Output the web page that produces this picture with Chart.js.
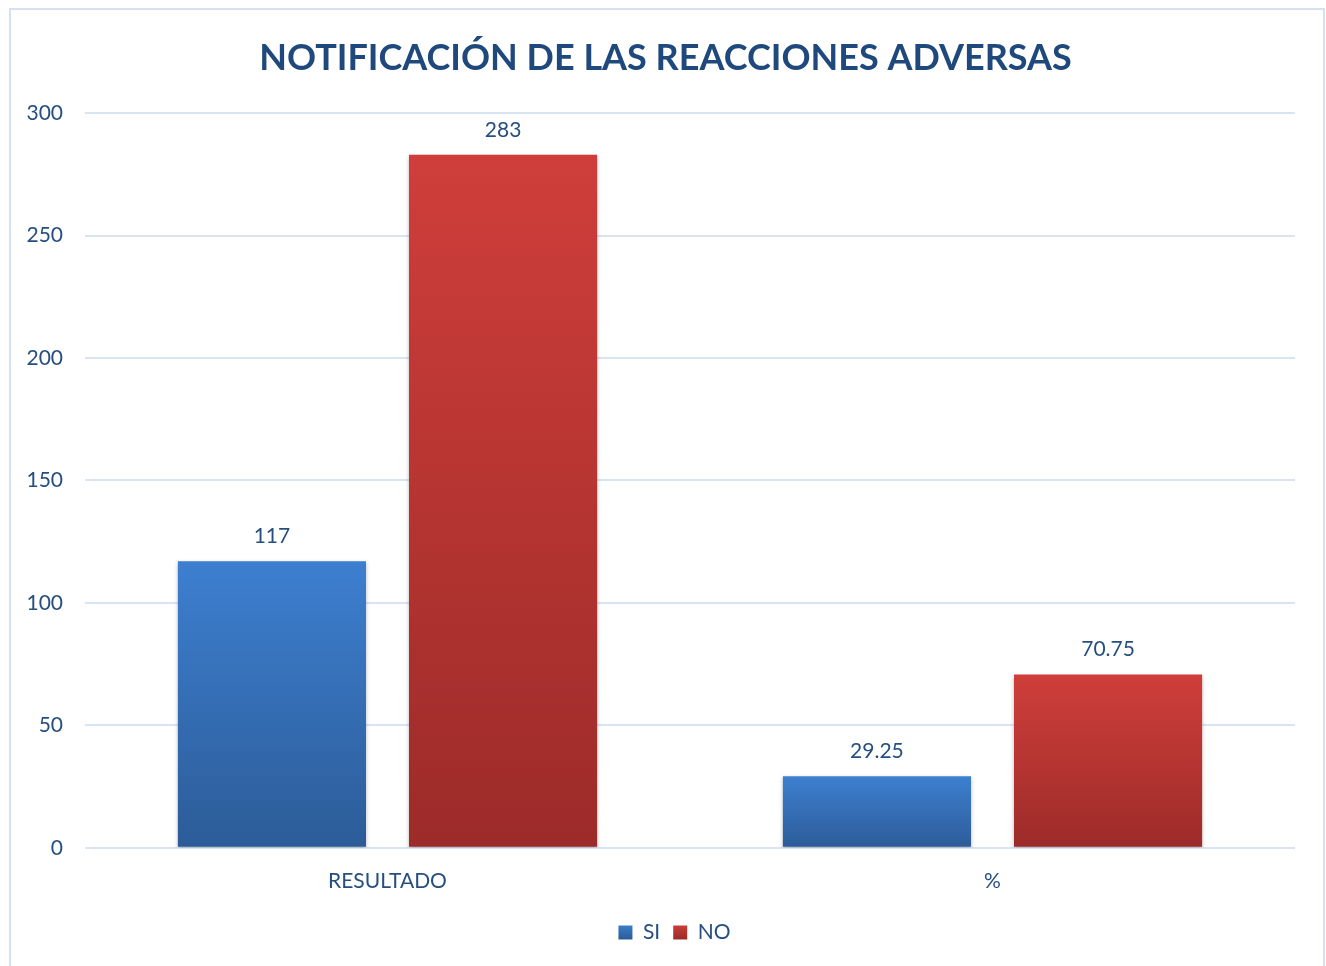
<!DOCTYPE html>
<html>
<head>
<meta charset="utf-8">
<script src="https://cdn.jsdelivr.net/npm/chart.js@4/dist/chart.umd.min.js"></script>
<style>
  html, body { margin: 0; padding: 0; background: #fff; }
  #wrap { position: absolute; left: 0; top: 0; width: 1326px; height: 966px; }
</style>
</head>
<body>
<div id="wrap"><canvas id="grafico"></canvas></div>
<script>
// datos
var categorias = ["RESULTADO", "%"];
var valoresSi = [117, 29.25];
var valoresNo = [283, 70.75];
var etiquetasSi = ["117", "29.25"];
var etiquetasNo = ["283", "70.75"];

var colorTexto = "#264F80";
var fuente = "Lato, 'Open Sans', sans-serif";

// degradado vertical por barra (arriba claro, abajo oscuro)
function degradado(arriba, abajo){
    return function(ctx){
        var chart = ctx.chart;
        if(!chart.chartArea || !chart.scales.y) return arriba;
        var y = chart.scales.y;
        var v = ctx.raw;
        var top = y.getPixelForValue(v);
        var base = y.getPixelForValue(0);
        if(!isFinite(top) || !isFinite(base) || base - top < 1) return arriba;
        var g = chart.ctx.createLinearGradient(0, top, 0, base);
        g.addColorStop(0, arriba);
        g.addColorStop(1, abajo);
        return g;
    };
}

// marco del grafico; titulo y leyenda centrados como en el original
var marco = {
    id: "marco",
    afterLayout: function(chart){
        if(chart.legend){
            chart.legend.left += 27;
            chart.legend.right += 27;
        }
        if(chart.titleBlock){
            chart.titleBlock.left += 18;
            chart.titleBlock.right += 18;
        }
    },
    beforeDraw: function(chart){
        var c = chart.ctx;
        c.save();
        c.fillStyle = "#ffffff";
        c.fillRect(0, 0, chart.width, chart.height);
        c.strokeStyle = "#D5E1F1";
        c.lineWidth = 2;
        c.strokeRect(10, 9, 1314, 980);
        c.restore();
    }
};

// sombra bajo las barras + etiquetas de valores
var sombra = {
    id: "sombra",
    beforeDatasetsDraw: function(chart){
        var c = chart.ctx;
        c.save();
        c.shadowColor = "rgba(0,0,0,0.28)";
        c.shadowBlur = 4;
        c.shadowOffsetX = 0;
        c.shadowOffsetY = 2;
    },
    afterDatasetsDraw: function(chart){
        chart.ctx.restore();
        var c = chart.ctx;
        c.save();
        c.font = "21px " + fuente;
        c.fillStyle = colorTexto;
        c.textAlign = "center";
        c.textBaseline = "middle";
        chart.data.datasets.forEach(function(ds, i){
            var meta = chart.getDatasetMeta(i);
            meta.data.forEach(function(bar, j){
                c.fillText(ds.etiquetas[j], bar.x, bar.y - 25);
            });
        });
        c.restore();
    }
};

new Chart(document.getElementById("grafico"), {
    type: "bar",
    data: {
        labels: categorias,
        datasets: [{
            label: "SI",
            data: valoresSi,
            etiquetas: etiquetasSi,
            backgroundColor: degradado("#3D7FD0", "#2C5C98"),
            borderWidth: 0,
            barPercentage: 0.814,
            categoryPercentage: 0.764
        }, {
            label: "NO",
            data: valoresNo,
            etiquetas: etiquetasNo,
            backgroundColor: degradado("#CF3E3A", "#9C2B29"),
            borderWidth: 0,
            barPercentage: 0.814,
            categoryPercentage: 0.764
        }]
    },
    options: {
        responsive: true,
        maintainAspectRatio: false,
        animation: false,
        layout: { padding: { left: 0, right: 31, top: 27, bottom: 13 } },
        plugins: {
            title: {
                display: true,
                text: "NOTIFICACIÓN DE LAS REACCIONES ADVERSAS",
                color: "#1F497D",
                font: { family: fuente, size: 36, weight: "bold" },
                padding: { top: 10, bottom: 33 }
            },
            legend: {
                position: "bottom",
                labels: {
                    generateLabels: function(chart){
                        var cols = [["#3D7FD0", "#2C5C98"], ["#CF3E3A", "#9C2B29"]];
                        return chart.data.datasets.map(function(ds, i){
                            var g = chart.ctx.createLinearGradient(0, 924, 0, 939);
                            g.addColorStop(0, cols[i][0]);
                            g.addColorStop(1, cols[i][1]);
                            return { text: ds.label, fillStyle: g, strokeStyle: g, lineWidth: 0, datasetIndex: i, fontColor: colorTexto };
                        });
                    },
                    boxWidth: 14,
                    boxHeight: 14,
                    padding: 13,
                    color: colorTexto,
                    font: { family: fuente, size: 21 }
                }
            },
            tooltip: { enabled: false }
        },
        scales: {
            x: {
                grid: { display: false },
                border: { display: false },
                ticks: { color: colorTexto, font: { family: fuente, size: 21 }, padding: 13 },
                afterFit: function(scale){ scale.height = scale.height + 2; }
            },
            y: {
                min: 0,
                max: 300,
                ticks: { stepSize: 50, color: colorTexto, font: { family: fuente, size: 21 }, padding: 22 },
                grid: { color: "#D9E4F3", lineWidth: 2, drawTicks: false },
                border: { display: false },
                afterFit: function(scale){ scale.width = 85; }
            }
        }
    },
    plugins: [marco, sombra]
});
</script>
</body>
</html>
